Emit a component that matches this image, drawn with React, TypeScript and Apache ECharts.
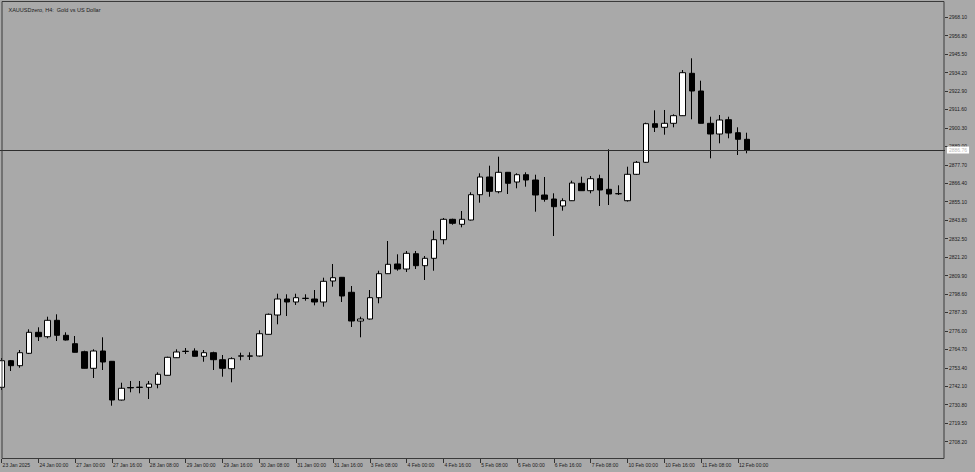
import React, { useEffect, useRef } from "react";
import * as echarts from "echarts";

const chartTitle = "XAUUSDzero, H4:  Gold vs US Dollar";

const tickLabels = [
  "23 Jan 2025", "24 Jan 00:00", "27 Jan 00:00", "27 Jan 16:00", "28 Jan 08:00",
  "29 Jan 00:00", "29 Jan 16:00", "30 Jan 08:00", "31 Jan 00:00", "31 Jan 16:00",
  "3 Feb 08:00", "4 Feb 00:00", "4 Feb 16:00", "5 Feb 08:00", "6 Feb 00:00",
  "6 Feb 16:00", "7 Feb 08:00", "10 Feb 00:00", "10 Feb 16:00", "11 Feb 08:00",
  "12 Feb 00:00",
];

const priceTicks = [
  2708.2, 2719.5, 2730.8, 2742.1, 2753.4, 2764.7, 2776.0, 2787.3, 2798.6, 2809.9,
  2821.2, 2832.5, 2843.8, 2855.1, 2866.4, 2877.7, 2889.0, 2900.3, 2911.6, 2922.9,
  2934.2, 2945.5, 2956.8, 2968.1,
];

const opens = [
  2741.45, 2757.74, 2754.68, 2762.27, 2775.13, 2772.44, 2782.48, 2773.29, 2768.15, 2763.25,
  2753.08, 2763.68, 2757.37, 2733.67, 2741.32, 2741.32, 2741.45, 2743.28, 2748.8, 2759.57,
  2763.37, 2763.68, 2760.43, 2762.64, 2758.35, 2752.84, 2760.5, 2760.5, 2760.62, 2773.9,
  2785.72, 2795.52, 2793.69, 2795.83, 2795.52, 2793.69, 2806.55, 2808.81, 2799.63, 2782.05,
  2783.27, 2796.32, 2811.02, 2816.96, 2813.89, 2823.26, 2815.92, 2820.45, 2831.84, 2844.33,
  2841.27, 2843.9, 2859.4, 2870.24, 2861.23, 2873.11, 2867.17, 2871.64, 2868.4, 2859.21,
  2856.76, 2852.48, 2855.72, 2866.38, 2861.85, 2869.19, 2862.7, 2859.95, 2855.72, 2871.89,
  2879.24, 2902.88, 2900.67, 2903.12, 2907.78, 2933.74, 2922.9, 2903.12, 2896.57, 2905.33,
  2897.36, 2893.32,
];

const closes = [
  2757.74, 2754.68, 2762.64, 2775.13, 2772.44, 2782.48, 2773.29, 2770.41, 2762.88, 2753.08,
  2763.68, 2756.94, 2733.67, 2740.84, 2741.08, 2741.57, 2743.47, 2749.41, 2759.82, 2763.07,
  2763.55, 2760.43, 2762.64, 2758.35, 2753.08, 2758.96, 2760.74, 2760.68, 2774.27, 2786.15,
  2795.52, 2793.69, 2796.32, 2796.01, 2793.69, 2806.36, 2808.57, 2797.36, 2782.05, 2783.27,
  2796.32, 2811.02, 2816.77, 2813.89, 2823.51, 2815.92, 2820.45, 2831.84, 2844.33, 2841.88,
  2844.33, 2859.4, 2870.24, 2861.48, 2873.11, 2866.38, 2871.64, 2868.4, 2859.21, 2856.58,
  2852.05, 2855.72, 2866.56, 2861.85, 2869.19, 2862.27, 2859.82, 2860.07, 2871.89, 2879.24,
  2902.88, 2900.67, 2903.12, 2907.78, 2934.11, 2922.9, 2903.12, 2896.57, 2905.14, 2897.18,
  2893.32, 2886.76,
];

const lows = [
  2739.79, 2751.43, 2753.45, 2761.85, 2769.8, 2771.46, 2769.8, 2770.1, 2762.76, 2752.96,
  2747.14, 2752.04, 2730.18, 2733.36, 2738.39, 2737.77, 2734.28, 2740.84, 2748.68, 2759.39,
  2761.84, 2760.31, 2757.12, 2752.04, 2747.94, 2744.51, 2757.98, 2758.17, 2760.31, 2773.78,
  2780.03, 2785.11, 2791.85, 2794.48, 2791.66, 2790.81, 2803.06, 2793.69, 2778.38, 2772.07,
  2782.97, 2792.89, 2810.83, 2812.85, 2812.06, 2813.89, 2807.16, 2812.85, 2829.02, 2841.02,
  2839.43, 2843.6, 2854.5, 2858.17, 2860.25, 2859.82, 2863.32, 2864.3, 2848.99, 2855.11,
  2834.1, 2849.6, 2855.54, 2861.66, 2860.25, 2852.48, 2853.09, 2859.21, 2855.23, 2871.46,
  2878.81, 2897.79, 2896.14, 2900.67, 2907.6, 2905.57, 2903.0, 2881.69, 2890.87, 2893.94,
  2883.71, 2884.75,
];

const highs = [
  2759.39, 2758.17, 2764.29, 2776.97, 2778.19, 2784.68, 2786.15, 2775.13, 2772.86, 2763.86,
  2764.72, 2772.07, 2757.56, 2744.26, 2745.31, 2745.31, 2745.31, 2750.64, 2760.19, 2764.72,
  2765.51, 2765.33, 2764.29, 2763.25, 2761.23, 2759.82, 2762.64, 2762.88, 2776.35, 2786.64,
  2798.77, 2798.4, 2798.77, 2798.4, 2801.03, 2808.57, 2816.96, 2809.0, 2803.48, 2784.68,
  2801.03, 2812.85, 2831.04, 2822.9, 2824.92, 2824.92, 2821.86, 2837.35, 2845.13, 2844.69,
  2849.41, 2860.87, 2872.5, 2877.16, 2882.67, 2873.3, 2872.5, 2873.11, 2871.64, 2870.24,
  2860.25, 2857.19, 2867.97, 2870.42, 2870.85, 2871.64, 2887.2, 2865.15, 2876.54, 2880.03,
  2903.49, 2911.08, 2911.27, 2908.63, 2935.76, 2942.93, 2929.21, 2907.16, 2908.2, 2907.16,
  2900.67, 2897.36,
];

const BARS_ON_SCREEN = 103;
const LABEL_EVERY = 4;
const FONT = "'Liberation Sans', Arial, sans-serif";
const BG = "#a9a9a9";
const INK = "#1c1c1c";
// the chart canvas starts a little left of the page so the first candle is cut by the frame
const SHIFT = 3.5;

export default function App() {
  const ref = useRef<HTMLDivElement>(null);

  useEffect(() => {
    if (!ref.current) return;
    const chart = echarts.init(ref.current, undefined, { renderer: "svg" });

    const categories = Array.from({ length: BARS_ON_SCREEN }, (_, i) => String(i));
    const candles = opens.map((o, i) => [o, closes[i], lows[i], highs[i]]);
    const lastClose = closes[closes.length - 1];
    const showTick = (i: number) =>
      i % LABEL_EVERY === 0 && i / LABEL_EVERY < tickLabels.length;

    chart.setOption({
      animation: false,
      backgroundColor: BG,
      title: {
        text: chartTitle,
        left: 3 + SHIFT,
        top: 2,
        textStyle: { fontSize: 5.5, fontWeight: "normal", color: INK, fontFamily: FONT },
      },
      grid: { left: 0, right: 31, top: 1, bottom: 13, containLabel: false },
      xAxis: {
        type: "category",
        data: categories,
        boundaryGap: true,
        axisLine: { show: false },
        axisTick: {
          show: true,
          alignWithLabel: true,
          interval: (i: number) => showTick(i),
          length: 4,
          lineStyle: { color: "#333", width: 1 },
        },
        axisLabel: {
          show: true,
          interval: (i: number) => showTick(i),
          formatter: (_v: string, i: number) => (showTick(i) ? tickLabels[i / LABEL_EVERY] : ""),
          align: "left",
          margin: 3,
          padding: [0, 0, 0, 1],
          fontSize: 5,
          color: INK,
          fontFamily: FONT,
        },
        splitLine: { show: false },
      },
      yAxis: {
        type: "value",
        position: "right",
        min: 2697.54,
        max: 2978.02,
        scale: true,
        axisLine: { show: false },
        splitLine: { show: false },
        axisTick: {
          show: true,
          length: 3,
          customValues: priceTicks,
          lineStyle: { color: "#333", width: 1 },
        },
        axisLabel: {
          show: true,
          customValues: priceTicks,
          formatter: (v: number) => v.toFixed(2),
          margin: 4,
          fontSize: 5,
          color: INK,
          fontFamily: FONT,
        },
      },
      graphic: [
        {
          type: "rect",
          silent: true,
          z: 100,
          shape: { x: 1.5 + SHIFT, y: 1.5, width: 942, height: 457 },
          style: { fill: "none", stroke: "#3a3a3a", lineWidth: 1 },
        },
      ],
      series: [
        {
          type: "candlestick",
          data: candles,
          barWidth: 6,
          silent: true,
          itemStyle: {
            color: "#ffffff",
            color0: "#000000",
            borderColor: "#000000",
            borderColor0: "#000000",
            borderWidth: 1,
          },
          markLine: {
            silent: true,
            symbol: ["none", "none"],
            lineStyle: { color: "#2e2e2e", width: 1, type: "solid" },
            label: {
              show: true,
              position: "end",
              distance: 2,
              formatter: (p: any) => Number(p.value).toFixed(2),
              backgroundColor: "#ffffff",
              color: "#b8b8b8",
              fontSize: 5,
              fontFamily: FONT,
              padding: [1, 2, 1, 2],
            },
            data: [{ yAxis: lastClose }],
          },
        },
      ],
    });

    return () => chart.dispose();
  }, []);

  return (
    <div
      ref={ref}
      style={{ position: "absolute", left: -SHIFT, top: 0, width: 975 + SHIFT, height: 472 }}
    />
  );
}
